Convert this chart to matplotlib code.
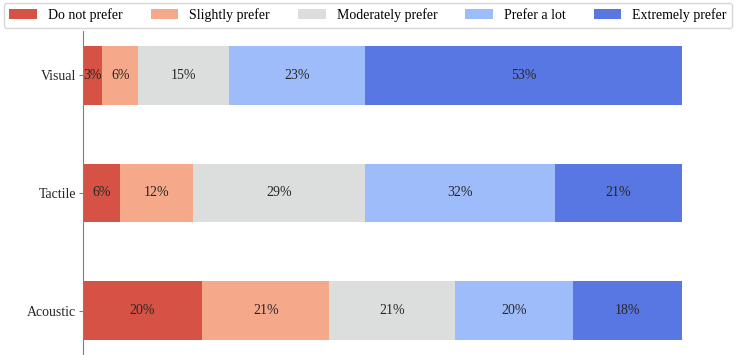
import matplotlib.pyplot as plt
import numpy as np

plt.rcParams['font.family'] = ['Liberation Serif', 'DejaVu Serif']

# data (percent of respondents)
modalities = ["Visual", "Tactile", "Acoustic"]
levels = ["Do not prefer", "Slightly prefer", "Moderately prefer",
          "Prefer a lot", "Extremely prefer"]
do_not = [3.2, 6.2, 19.9]
slightly = [6.0, 12.2, 21.2]
moderately = [15.2, 28.7, 21.0]
a_lot = [22.7, 31.7, 19.7]
extremely = [52.9, 21.2, 18.2]
labels = [
    ["3%", "6%", "20%"],
    ["6%", "12%", "21%"],
    ["15%", "29%", "21%"],
    ["23%", "32%", "20%"],
    ["53%", "21%", "18%"],
]

series = [do_not, slightly, moderately, a_lot, extremely]
colors = ["#d65244", "#f6a98a", "#dcdddd", "#9ebcfa", "#5977e3"]

fig = plt.figure(figsize=(7.36, 3.55), dpi=100)
ax = fig.add_axes([83 / 736, 0.0, (682 - 83) / 736, 324 / 355])

left = np.zeros(len(modalities))
for vals, lab, col, name in zip(series, labels, colors, levels):
    bars = ax.barh(modalities, vals, left=left, height=0.5, color=col, label=name)
    ax.bar_label(bars, labels=lab, label_type="center", fontsize=10, color="#262626")
    left += np.array(vals)

ax.invert_yaxis()
ax.set_xlim(0, 100)
ax.set_xticks([])
for s in ["top", "right", "bottom"]:
    ax.spines[s].set_visible(False)
ax.spines["left"].set_color("#808080")
ax.tick_params(axis="y", labelsize=10, colors="#808080", labelcolor="#262626",
               length=3, pad=2)

fig.legend(loc="upper center", bbox_to_anchor=(0.5, 1.0), ncol=5, fontsize=10,
           frameon=True, edgecolor="#cccccc", borderaxespad=0.2)

fig.savefig("out.png", dpi=100)
